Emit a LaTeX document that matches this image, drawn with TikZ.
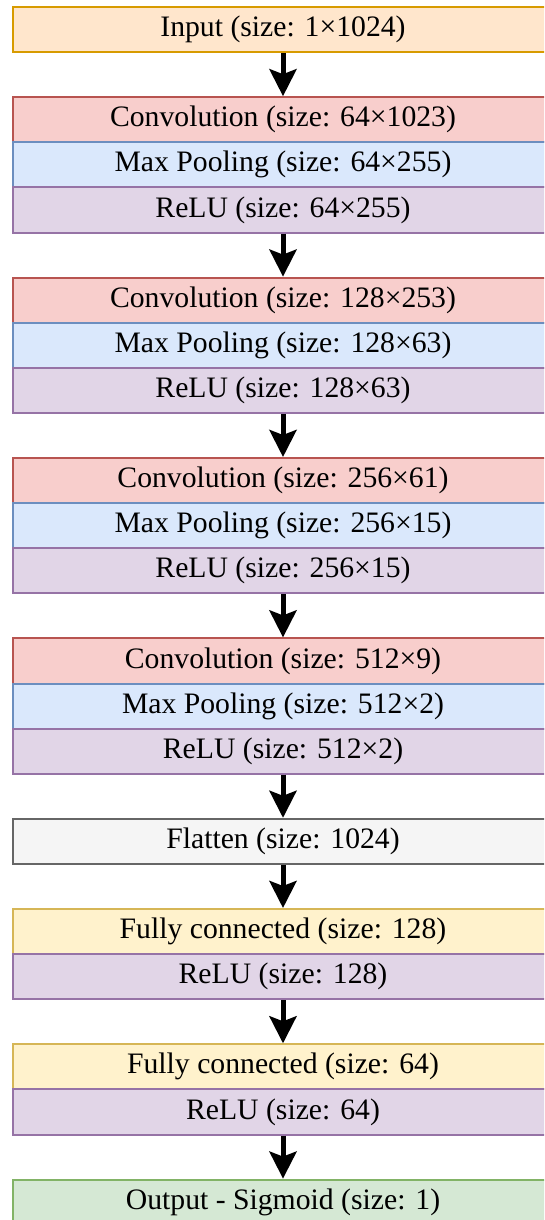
\documentclass[tikz,border=0pt]{standalone}
\usepackage{fontspec}
\setmainfont{Liberation Serif}
\usetikzlibrary{arrows.meta}
\definecolor{inFill}{HTML}{FFE6CC}\definecolor{inLine}{HTML}{D79B00}
\definecolor{cvFill}{HTML}{F8CECC}\definecolor{cvLine}{HTML}{B85450}
\definecolor{mpFill}{HTML}{DAE8FC}\definecolor{mpLine}{HTML}{6C8EBF}
\definecolor{reFill}{HTML}{E1D5E7}\definecolor{reLine}{HTML}{9673A6}
\definecolor{flFill}{HTML}{F5F5F5}\definecolor{flLine}{HTML}{666666}
\definecolor{fcFill}{HTML}{FFF2CC}\definecolor{fcLine}{HTML}{D6B656}
\definecolor{ouFill}{HTML}{D5E8D4}\definecolor{ouLine}{HTML}{82B366}
\tikzset{
  layer/.style={rectangle, anchor=north, minimum width=541pt, minimum height=45.1pt,
    inner sep=0pt, line width=2pt, font=\fontsize{29.7}{33}\selectfont, text=black},
  inputbox/.style={layer, fill=inFill, draw=inLine},
  convbox/.style={layer, fill=cvFill, draw=cvLine},
  poolbox/.style={layer, fill=mpFill, draw=mpLine},
  relubox/.style={layer, fill=reFill, draw=reLine},
  flatbox/.style={layer, fill=flFill, draw=flLine},
  fcbox/.style={layer, fill=fcFill, draw=fcLine},
  outbox/.style={layer, fill=ouFill, draw=ouLine},
  flow/.style={line width=5pt, -{Stealth[length=27pt,width=27pt,inset=5pt]}}
}
\begin{document}
\begin{tikzpicture}[x=1pt,y=-1pt]
\useasboundingbox (0,0) rectangle (544,1220);
\clip (0,0) rectangle (544,1220);
\node[inputbox] (input) at (283,6) {Input (size: 1×1024)};
\node[convbox] (c1) at (283,96.2) {Convolution (size: 64×1023)};
\node[poolbox] (p1) at (283,141.3) {Max Pooling (size: 64×255)};
\node[relubox] (r1) at (283,186.4) {ReLU (size: 64×255)};
\node[convbox] (c2) at (283,276.6) {Convolution (size: 128×253)};
\node[poolbox] (p2) at (283,321.7) {Max Pooling (size: 128×63)};
\node[relubox] (r2) at (283,366.8) {ReLU (size: 128×63)};
\node[convbox] (c3) at (283,457) {Convolution (size: 256×61)};
\node[poolbox] (p3) at (283,502.1) {Max Pooling (size: 256×15)};
\node[relubox] (r3) at (283,547.2) {ReLU (size: 256×15)};
\node[convbox] (c4) at (283,637.4) {Convolution (size: 512×9)};
\node[poolbox] (p4) at (283,682.5) {Max Pooling (size: 512×2)};
\node[relubox] (r4) at (283,727.6) {ReLU (size: 512×2)};
\node[flatbox] (flat) at (283,817.8) {Flatten (size: 1024)};
\node[fcbox] (f1) at (283,908) {Fully connected (size: 128)};
\node[relubox] (fr1) at (283,953.1) {ReLU (size: 128)};
\node[fcbox] (f2) at (283,1043.3) {Fully connected (size: 64)};
\node[relubox] (fr2) at (283,1088.4) {ReLU (size: 64)};
\node[outbox] (out) at (283,1178.6) {Output - Sigmoid (size: 1)};
\draw[flow] (input) -- (c1);
\draw[flow] (r1) -- (c2);
\draw[flow] (r2) -- (c3);
\draw[flow] (r3) -- (c4);
\draw[flow] (r4) -- (flat);
\draw[flow] (flat) -- (f1);
\draw[flow] (fr1) -- (f2);
\draw[flow] (fr2) -- (out);
\end{tikzpicture}
\end{document}
